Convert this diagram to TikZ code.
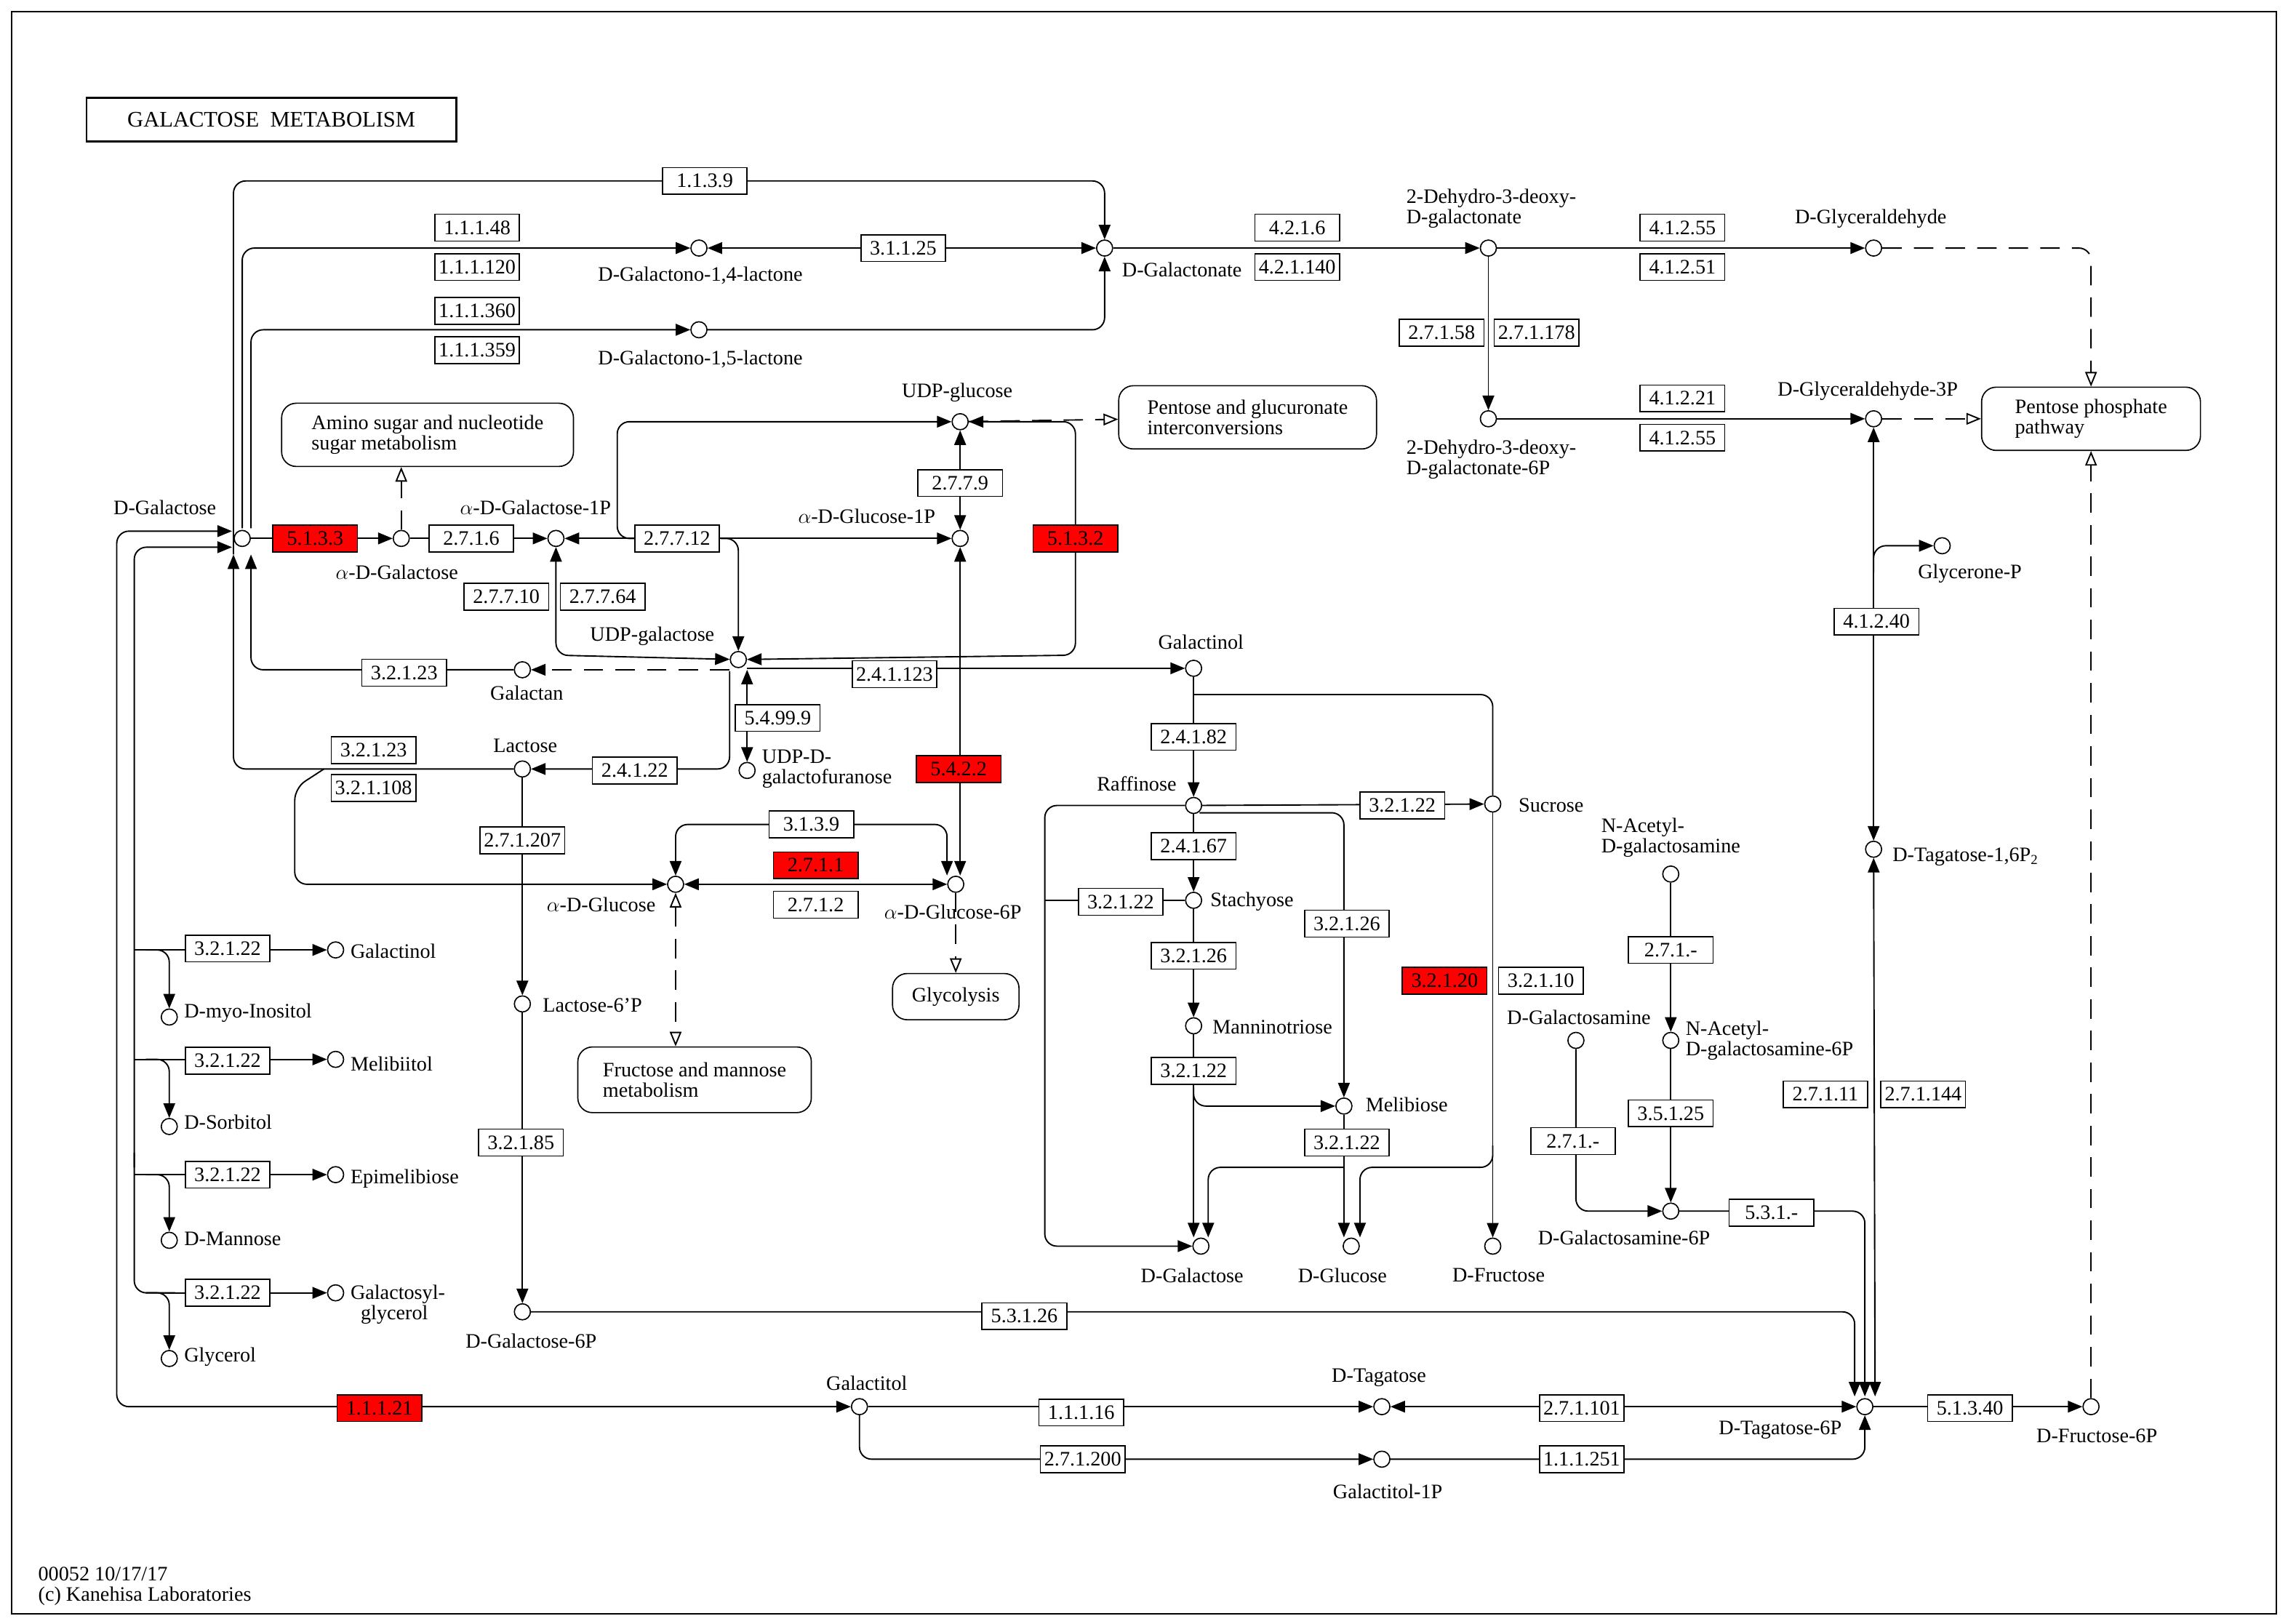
\documentclass[tikz,border=0pt]{standalone}
\usepackage{fontspec}
\setmainfont{Liberation Serif}
\usetikzlibrary{arrows.meta}
\pgfdeclarelayer{bg}
\pgfsetlayers{bg,main}
\tikzset{
 every node/.style={font=\fontsize{12}{12}\selectfont},
 cpd/.style={circle,draw,fill=white,line width=0.7pt,inner sep=0pt,minimum size=0.33cm},
 lbl/.style={inner sep=0pt,align=left},
 ec/.style={draw,fill=white,line width=0.7pt,minimum width=1.74cm,minimum height=0.55cm,inner sep=1pt},
 ecr/.style={ec,fill=red},
 mapb/.style={draw,fill=white,rounded corners=0.3cm,line width=0.7pt,align=left,inner sep=3pt},
 ln/.style={line width=0.8pt},
 ar/.style={ln,-{Triangle[length=0.3cm,width=0.24cm]}},
 ab/.style={ln,{Triangle[length=0.3cm,width=0.24cm]}-{Triangle[length=0.3cm,width=0.24cm]}},
 da/.style={ln,dashed,dash pattern=on 0.4cm off 0.25cm,-{Triangle[open,length=0.3cm,width=0.24cm]}},
 dab/.style={ln,dashed,dash pattern=on 0.4cm off 0.25cm,{Triangle[open,length=0.3cm,width=0.24cm]}-{Triangle[open,length=0.3cm,width=0.24cm]}},
 dl/.style={ln,dashed,dash pattern=on 0.4cm off 0.25cm},
 rc/.style={rounded corners=0.25cm}
}
\begin{document}
\begin{tikzpicture}[x=0.03cm,y=-0.03cm]
\useasboundingbox (0,0) rectangle (1568,1112.7);
\draw[line width=1pt] (8,8) rectangle (1560,1106);
\node[draw,line width=1.2pt,minimum width=7.6cm,minimum height=0.9cm,font=\fontsize{13}{13}\selectfont] (title) at (186,82) {GALACTOSE\ \ METABOLISM};
\node[lbl,anchor=west] (foot) at (26,1087) {00052 10/17/17\\(c) Kanehisa Laboratories};

% compounds
\node[cpd] (gal) at (166,369) {}; \node[lbl] (galL) at (113,348) {D-Galactose};
\node[cpd] (aDGal) at (275,369) {}; \node[lbl] (aDGalL) at (272,392) {$\alpha$-D-Galactose};
\node[cpd] (aGal1P) at (381,369) {}; \node[lbl] (aGal1PL) at (367,348) {$\alpha$-D-Galactose-1P};
\node[cpd] (UDPglc) at (658,289) {}; \node[lbl] (UDPglcL) at (656,269) {UDP-glucose};
\node[cpd] (aGlc1P) at (658,369) {}; \node[lbl] (aGlc1PL) at (594,354) {$\alpha$-D-Glucose-1P};
\node[cpd] (UDPgal) at (506,452) {}; \node[lbl] (UDPgalL) at (447,436) {UDP-galactose};
\node[cpd] (galactan) at (358,459) {}; \node[lbl] (galactanL) at (361,475) {Galactan};
\node[cpd] (UDPgalf) at (512,528) {}; \node[lbl,anchor=west] (UDPgalfL) at (522,527) {UDP-D-\\galactofuranose};
\node[cpd] (lactose) at (358,527) {}; \node[lbl] (lactoseL) at (360,511) {Lactose};
\node[cpd] (aGlc) at (463,606) {}; \node[lbl] (aGlcL) at (412,620) {$\alpha$-D-Glucose};
\node[cpd] (aGlc6P) at (655,606) {}; \node[lbl] (aGlc6PL) at (653,625) {$\alpha$-D-Glucose-6P};
\node[cpd] (lac6P) at (358,688) {}; \node[lbl] (lac6PL) at (406,689) {Lactose-6'P};
\node[cpd] (gal6P) at (358,899) {}; \node[lbl] (gal6PL) at (364,919) {D-Galactose-6P};
\node[cpd] (galactitol) at (589,964) {}; \node[lbl] (galactitolL) at (594,948) {Galactitol};
\node[cpd] (galactitol1P) at (947,1000) {}; \node[lbl] (galactitol1PL) at (951,1022) {Galactitol-1P};
\node[cpd] (tagatose) at (947,964) {}; \node[lbl] (tagatoseL) at (945,944) {D-Tagatose};
\node[cpd] (tag6P) at (1278,964) {}; \node[lbl] (tag6PL) at (1220,980) {D-Tagatose-6P};
\node[cpd] (fru6P) at (1433,964) {}; \node[lbl] (fru6PL) at (1437,984) {D-Fructose-6P};
\node[cpd] (galactono14) at (479,170) {}; \node[lbl] (g14L) at (480,189) {D-Galactono-1,4-lactone};
\node[cpd] (galactono15) at (479,226) {}; \node[lbl] (g15L) at (480,246) {D-Galactono-1,5-lactone};
\node[cpd] (galactonate) at (757,170) {}; \node[lbl] (galactonateL) at (810,185) {D-Galactonate};
\node[cpd] (dehydro) at (1020,170) {}; \node[lbl] (dehydroL) at (1022,143) {2-Dehydro-3-deoxy-\\D-galactonate};
\node[cpd] (dehydro6P) at (1020,287) {}; \node[lbl] (dehydro6PL) at (1022,315) {2-Dehydro-3-deoxy-\\D-galactonate-6P};
\node[cpd] (glyceraldehyde) at (1284,170) {}; \node[lbl] (glyL) at (1282,150) {D-Glyceraldehyde};
\node[cpd] (G3P) at (1284,287) {}; \node[lbl] (G3PL) at (1280,268) {D-Glyceraldehyde-3P};
\node[cpd] (glyceroneP) at (1331,374) {}; \node[lbl] (glyceronePL) at (1350,393) {Glycerone-P};
\node[cpd] (tag16P) at (1284,582) {}; \node[lbl] (tag16PL) at (1347,587) {D-Tagatose-1,6P\textsubscript{2}};
\node[cpd] (galactinol2) at (818,458) {}; \node[lbl] (galactinol2L) at (823,440) {Galactinol};
\node[cpd] (raffinose) at (818,552) {}; \node[lbl] (raffinoseL) at (779,537) {Raffinose};
\node[cpd] (stachyose) at (818,617) {}; \node[lbl] (stachyoseL) at (858,618) {Stachyose};
\node[cpd] (manninotriose) at (818,703) {}; \node[lbl] (mannL) at (872,704) {Manninotriose};
\node[cpd] (melibiose) at (921,758) {}; \node[lbl] (melibioseL) at (964,757) {Melibiose};
\node[cpd] (sucrose) at (1023,551) {}; \node[lbl] (sucroseL) at (1063,552) {Sucrose};
\node[cpd] (galB) at (823,854) {}; \node[lbl] (galBL) at (817,874) {D-Galactose};
\node[cpd] (glcB) at (926,854) {}; \node[lbl] (glcBL) at (920,874) {D-Glucose};
\node[cpd] (fruB) at (1023,854) {}; \node[lbl] (fruBL) at (1027,874) {D-Fructose};
\node[cpd] (NAcGalN) at (1145,599) {}; \node[lbl] (NAcGalNL) at (1145,574) {N-Acetyl-\\D-galactosamine};
\node[cpd] (NAcGalN6P) at (1145,713) {}; \node[lbl,anchor=west] (NAcGalN6PL) at (1155,713) {N-Acetyl-\\D-galactosamine-6P};
\node[cpd] (galN) at (1080,713) {}; \node[lbl] (galNL) at (1082,697) {D-Galactosamine};
\node[cpd] (galN6P) at (1145,830) {}; \node[lbl] (galN6PL) at (1113,848) {D-Galactosamine-6P};
\node[cpd] (galactinolL) at (230,651) {}; \node[lbl,anchor=west] (gLL) at (240,652) {Galactinol};
\node[cpd] (myo) at (116,697) {}; \node[lbl,anchor=west] (myoL) at (126,694) {D-myo-Inositol};
\node[cpd] (melibiitol) at (230,726) {}; \node[lbl,anchor=west] (melibiitolL) at (240,729) {Melibiitol};
\node[cpd] (sorbitol) at (116,772) {}; \node[lbl,anchor=west] (sorbitolL) at (126,769) {D-Sorbitol};
\node[cpd] (epimelibiose) at (230,805) {}; \node[lbl,anchor=west] (epiL) at (240,808) {Epimelibiose};
\node[cpd] (mannose) at (116,850) {}; \node[lbl,anchor=west] (mannoseL) at (126,849) {D-Mannose};
\node[cpd] (galgly) at (230,886) {}; \node[lbl,anchor=west] (galglyL) at (240,894) {Galactosyl-\\\ \ glycerol};
\node[cpd] (glycerol) at (116,931) {}; \node[lbl,anchor=west] (glycerolL) at (126,930) {Glycerol};

% maps
\node[mapb,minimum width=6cm,minimum height=1.3cm] (aminomap) at (293,298) {Amino sugar and nucleotide\\sugar metabolism};
\node[mapb,minimum width=5.3cm,minimum height=1.3cm] (pentmap) at (855,286) {Pentose and glucuronate\\interconversions};
\node[mapb,minimum width=4.5cm,minimum height=1.3cm] (ppp) at (1433,287) {Pentose phosphate\\pathway};
\node[mapb,minimum width=2.6cm,minimum height=0.95cm] (glycmap) at (655,683) {Glycolysis};
\node[mapb,minimum width=4.8cm,minimum height=1.35cm] (fmmap) at (476,740) {Fructose and mannose\\metabolism};

% enzymes
\node[ec] (e1) at (483,124) {1.1.3.9};
\node[ec] (e2) at (327,156) {1.1.1.48};
\node[ec] (e3) at (327,183) {1.1.1.120};
\node[ec] (e4) at (327,213) {1.1.1.360};
\node[ec] (e5) at (327,240) {1.1.1.359};
\node[ec] (e6) at (619,170) {3.1.1.25};
\node[ec] (e7) at (889,156) {4.2.1.6};
\node[ec] (e8) at (889,183) {4.2.1.140};
\node[ec] (e9) at (1153,156) {4.1.2.55};
\node[ec] (e10) at (1153,183) {4.1.2.51};
\node[ec] (e11) at (988,228) {2.7.1.58};
\node[ec] (e12) at (1053,228) {2.7.1.178};
\node[ec] (e13) at (1153,273) {4.1.2.21};
\node[ec] (e14) at (1153,300) {4.1.2.55};
\node[ecr] (e15) at (216,369) {5.1.3.3};
\node[ec] (e16) at (323,369) {2.7.1.6};
\node[ec] (e17) at (464,369) {2.7.7.12};
\node[ec] (e18) at (347,409) {2.7.7.10};
\node[ec] (e19) at (413,409) {2.7.7.64};
\node[ec] (e20) at (658,331) {2.7.7.9};
\node[ecr] (e21) at (737,369) {5.1.3.2};
\node[ec] (e22) at (277,461) {3.2.1.23};
\node[ec] (e23) at (613,462) {2.4.1.123};
\node[ec] (e24) at (533,492) {5.4.99.9};
\node[ecr] (e25) at (657,527) {5.4.2.2};
\node[ec] (e26) at (256,514) {3.2.1.23};
\node[ec] (e27) at (256,540) {3.2.1.108};
\node[ec] (e28) at (435,528) {2.4.1.22};
\node[ec] (e29) at (358,576) {2.7.1.207};
\node[ec] (e30) at (556,565) {3.1.3.9};
\node[ecr] (e31) at (559,593) {2.7.1.1};
\node[ec] (e32) at (559,620) {2.7.1.2};
\node[ec] (e33) at (818,505) {2.4.1.82};
\node[ec] (e34) at (818,580) {2.4.1.67};
\node[ec] (e35) at (961,552) {3.2.1.22};
\node[ec] (e36) at (768,618) {3.2.1.22};
\node[ec] (e37) at (923,633) {3.2.1.26};
\node[ec] (e38) at (818,655) {3.2.1.26};
\node[ec] (e39) at (818,734) {3.2.1.22};
\node[ec] (e40) at (923,783) {3.2.1.22};
\node[ecr] (e41) at (990,672) {3.2.1.20};
\node[ec] (e42) at (1056,672) {3.2.1.10};
\node[ec] (e43) at (1145,651) {2.7.1.-};
\node[ec] (e44) at (1145,763) {3.5.1.25};
\node[ec] (e45) at (1078,782) {2.7.1.-};
\node[ec] (e46) at (1214,831) {5.3.1.-};
\node[ec] (e47) at (1251,750) {2.7.1.11};
\node[ec] (e48) at (1318,750) {2.7.1.144};
\node[ec] (e49) at (1286,426) {4.1.2.40};
\node[ec] (e50) at (156,650) {3.2.1.22};
\node[ec] (e51) at (156,727) {3.2.1.22};
\node[ec] (e52) at (156,805) {3.2.1.22};
\node[ec] (e53) at (156,886) {3.2.1.22};
\node[ec] (e54) at (357,783) {3.2.1.85};
\node[ec] (e55) at (702,902) {5.3.1.26};
\node[ecr] (e56) at (260,965) {1.1.1.21};
\node[ec] (e57) at (741,968) {1.1.1.16};
\node[ec] (e58) at (742,1000) {2.7.1.200};
\node[ec] (e59) at (1084,965) {2.7.1.101};
\node[ec] (e60) at (1084,1000) {1.1.1.251};
\node[ec] (e61) at (1350,965) {5.1.3.40};

\begin{pgfonlayer}{bg}
\draw[ar,rc] (160,380) -- (160,124) -- (757,124) -- (galactonate);
\draw[ar,rc] (166,362) -- (166,170) -- (galactono14);
\draw[ar,rc] (172,362) -- (172,226) -- (galactono15);
\draw[ab] (galactono14) -- (galactonate);
\draw[ar,rc] (galactono15) -- (757,226) -- (galactonate);
\draw[ar] (galactonate) -- (dehydro);
\draw[ar] (dehydro) -- (glyceraldehyde);
\draw[ar] (dehydro) -- (dehydro6P);
\draw[ar] (dehydro6P) -- (G3P);
\draw[da,rc] (glyceraldehyde) -- (1433,170) -- (ppp);
\draw[da] (G3P) -- (ppp);
\draw[da] (fru6P) -- (ppp);
\draw[ab] (tag16P) -- (G3P);
\draw[ar,rc] (1284,392) -- (1284,374) -- (glyceroneP);
\draw[ab] (tag16P) -- (1285,957);
\draw[ar,rc] (gal6P) -- (1271,899) -- (1271,957);
\draw[ar,rc] (galN6P) -- (1278,830) -- (1278,957);
\draw[ar] (tag6P) -- (fru6P);
\draw[ab] (tagatose) -- (tag6P);
\draw[ar] (galactitol) -- (tagatose);
\draw[ar,rc] (galactitol) -- (589,1000) -- (galactitol1P);
\draw[ar,rc] (galactitol1P) -- (1278,1000) -- (tag6P);
\draw[ab,rc] (galactitol) -- (80,964) -- (80,364) -- (159,364);
\draw[ar,rc] (92,800) -- (92,375) -- (159,375);
\draw[ln,rc] (92,790) -- (92,886) -- (120,886);
\draw[ar] (110,886) -- (galgly);
\draw[ar] (92,651) -- (galactinolL);
\draw[ar,rc] (100,651) -- (116,651) -- (myo);
\draw[ar] (92,726) -- (melibiitol);
\draw[ar,rc] (100,726) -- (116,726) -- (sorbitol);
\draw[ar] (92,805) -- (epimelibiose);
\draw[ar,rc] (100,805) -- (116,805) -- (mannose);
\draw[ar,rc] (100,886) -- (116,886) -- (glycerol);
\draw[ar] (gal) -- (aDGal);
\draw[ar] (aDGal) -- (aGal1P);
\draw[da] (aDGal) -- (aDGal |- aminomap.south);
\draw[ab] (aGal1P) -- (aGlc1P);
\draw[ar,rc] (436,369) -- (423,369) -- (423,289) -- (UDPglc);
\draw[ar,rc] (494,369) -- (506,369) -- (UDPgal);
\draw[ab,rc] (aGal1P) -- (381,449) -- (UDPgal);
\draw[ab] (UDPglc) -- (aGlc1P);
\draw[da] (UDPglc) -- (pentmap);
\draw[ab,rc] (UDPglc) -- (737,289) -- (737,449) -- (UDPgal);
\draw[dl,-{Triangle[length=0.3cm,width=0.24cm]}] (500,459) -- (galactan);
\draw[ar,rc] (galactan) -- (172,459) -- (172,380);
\draw[ar] (512,458) -- (galactinol2);
\draw[ab] (512,459) -- (UDPgalf);
\draw[ar,rc] (500,460) -- (500,527) -- (lactose);
\draw[ar,rc] (lactose) -- (160,527) -- (160,380);
\draw[ar,rc] (222,527) -- (202,540) -- (202,606) -- (aGlc);
\draw[ar] (lactose) -- (lac6P);
\draw[ar] (lac6P) -- (gal6P);
\draw[ab] (aGlc) -- (aGlc6P);
\draw[ab,rc] (aGlc) -- (463,565) -- (649,565) -- (649,600);
\draw[ab] (aGlc1P) -- (658,600);
\draw[dab] (aGlc) -- (aGlc |- fmmap.north);
\draw[da] (aGlc6P) -- (glycmap);
\draw[ar] (galactinol2) -- (raffinose);
\draw[ln,rc] (sucrose) -- (1023,476) -- (818,476);
\draw[ar] (raffinose) -- (stachyose);
\draw[ar] (raffinose) -- (sucrose);
\draw[ar,rc] (822,557) -- (921,557) -- (melibiose);
\draw[ar,rc] (raffinose) -- (716,552) -- (716,854) -- (galB);
\draw[ln] (stachyose) -- (716,617);
\draw[ar] (stachyose) -- (manninotriose);
\draw[ar] (manninotriose) -- (818,848);
\draw[ar,rc] (818,745) -- (818,758) -- (melibiose);
\draw[ar] (melibiose) -- (921,848);
\draw[ar,rc] (921,800) -- (828,800) -- (828,848);
\draw[ar] (sucrose) -- (fruB);
\draw[ar,rc] (1023,785) -- (1023,800) -- (932,800) -- (932,848);
\draw[ar] (NAcGalN) -- (NAcGalN6P);
\draw[ar] (NAcGalN6P) -- (galN6P);
\draw[ar,rc] (galN) -- (1080,830) -- (galN6P);
\end{pgfonlayer}
\end{tikzpicture}
\end{document}
